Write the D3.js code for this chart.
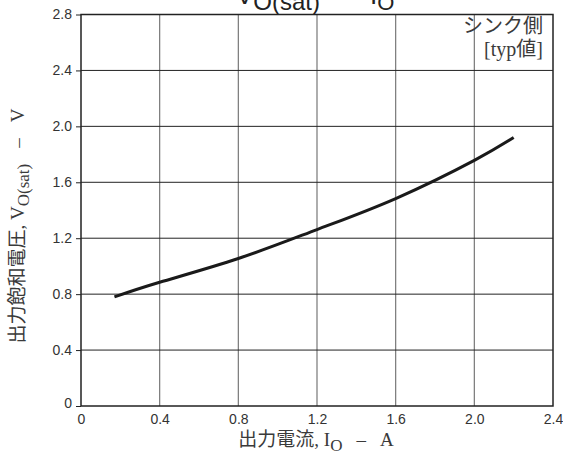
<!DOCTYPE html>
<html><head><meta charset="utf-8">
<script src="https://cdn.jsdelivr.net/npm/d3@7"></script>
<style>body{margin:0;background:#fff}svg{display:block}</style>
</head><body>
<svg id="c" width="563" height="456"></svg>
<script>
const currentA = [0.17, 0.4, 0.8, 1.2, 1.6, 2.0, 2.2];
const voltageV = [0.78, 0.885, 1.055, 1.262, 1.484, 1.757, 1.92];
const xTicks = [0, 0.4, 0.8, 1.2, 1.6, 2.0, 2.4];
const yTicks = [0, 0.4, 0.8, 1.2, 1.6, 2.0, 2.4, 2.8];
const xTickLabels = ["0", "0.4", "0.8", "1.2", "1.6", "2.0", "2.4"];
const yTickLabels = ["0", "0.4", "0.8", "1.2", "1.6", "2.0", "2.4", "2.8"];

const svg = d3.select("#c");
const L = 81, R = 553, T = 14.5, B = 406;
const x = d3.scaleLinear().domain([0, 2.4]).range([L, R]);
const y = d3.scaleLinear().domain([0, 2.8]).range([B, T]);
const sans = "'Liberation Sans', Arial, sans-serif";
const serif = "'Liberation Serif', 'Times New Roman', 'Noto Sans CJK JP', serif";

// grid
svg.append("g").selectAll("line").data(xTicks.slice(1, -1)).join("line")
  .attr("x1", d => x(d)).attr("x2", d => x(d)).attr("y1", T).attr("y2", B)
  .attr("stroke", "#777").attr("stroke-width", 1.2);
svg.append("g").selectAll("line").data(yTicks.slice(1, -1)).join("line")
  .attr("x1", L).attr("x2", R).attr("y1", d => y(d)).attr("y2", d => y(d))
  .attr("stroke", "#222").attr("stroke-width", 1);

// axes
const yAxis = d3.axisLeft(y).tickValues(yTicks).tickFormat((d, i) => yTickLabels[i]).tickSize(5).tickPadding(4);
const gy = svg.append("g").attr("transform", `translate(${L},0)`).call(yAxis);
gy.select(".domain").remove();
gy.selectAll("line").attr("stroke", "#222");
gy.selectAll("text").attr("font-family", sans).attr("font-size", 14).attr("fill", "#333");
gy.selectAll(".tick").filter(d => d === 0).select("text").attr("dy", "0.1em");

const xAxis = d3.axisBottom(x).tickValues(xTicks).tickFormat((d, i) => xTickLabels[i]).tickSize(0).tickPadding(8);
const gx = svg.append("g").attr("transform", `translate(0,${B})`).call(xAxis);
gx.select(".domain").remove();
gx.selectAll("text").attr("font-family", sans).attr("font-size", 14).attr("fill", "#333");

// frame
svg.append("rect").attr("x", L).attr("y", T).attr("width", R - L).attr("height", B - T)
  .attr("fill", "none").attr("stroke", "#222").attr("stroke-width", 1.5);

// curve
const line = d3.line().x(d => x(d[0])).y(d => y(d[1])).curve(d3.curveNatural);
svg.append("path").datum(currentA.map((a, i) => [a, voltageV[i]]))
  .attr("d", line).attr("fill", "none").attr("stroke", "#1a1a1a").attr("stroke-width", 3);

// title (cut off at top)
const title = svg.append("text").attr("x", 236).attr("y", 4)
  .attr("font-family", sans).attr("font-size", 26).attr("fill", "#222");
title.append("tspan").text("V");
title.append("tspan").attr("font-size", 24).attr("dy", 6).text("O(sat)");
title.append("tspan").attr("dy", -6).attr("dx", 50).text("I");
title.append("tspan").attr("font-size", 22).attr("dy", 6).text("O");

// note
svg.append("text").attr("x", 543).attr("y", 33).attr("text-anchor", "end")
  .attr("font-family", serif).attr("font-size", 20).attr("fill", "#3a3a3a").text("シンク側");
svg.append("text").attr("x", 543).attr("y", 56).attr("text-anchor", "end")
  .attr("font-family", serif).attr("font-size", 20).attr("fill", "#3a3a3a").text("[typ値]");

// x label
const xl = svg.append("text").attr("x", 316).attr("y", 446).attr("text-anchor", "middle")
  .attr("font-family", serif).attr("font-size", 19).attr("fill", "#3a3a3a");
xl.append("tspan").text("出力電流, I");
xl.append("tspan").attr("font-size", 17).attr("dy", 5).text("O");
xl.append("tspan").attr("dy", -5).attr("dx", 14).text("–");
xl.append("tspan").attr("dx", 14).text("A");

// y label
const yl = svg.append("text").attr("transform", "translate(24,226) rotate(-90)").attr("text-anchor", "middle")
  .attr("font-family", serif).attr("font-size", 19).attr("fill", "#3a3a3a");
yl.append("tspan").text("出力飽和電圧, V");
yl.append("tspan").attr("font-size", 17).attr("dy", 5).text("O(sat)");
yl.append("tspan").attr("dy", -5).attr("dx", 16).text("–");
yl.append("tspan").attr("dx", 16).text("V");
</script>
</body></html>
